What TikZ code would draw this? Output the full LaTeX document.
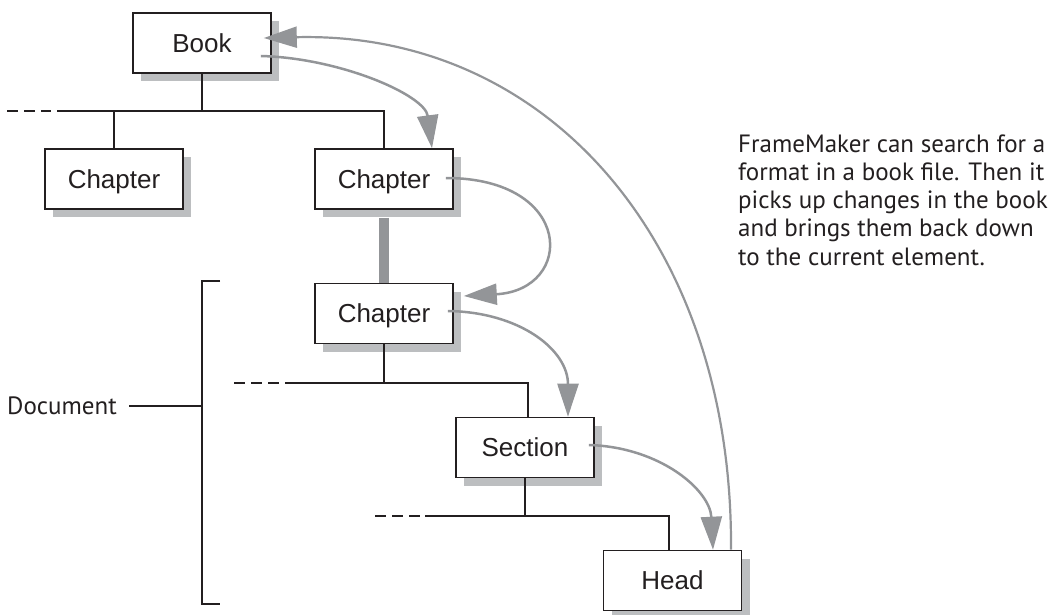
\documentclass[tikz,border=0pt]{standalone}
\usepackage{fontspec}
\setmainfont{Liberation Sans}
\newfontfamily\notefont{PT Sans}
\usetikzlibrary{arrows.meta,shadows,calc}
\definecolor{ink}{HTML}{231F20}
\definecolor{arrowgray}{HTML}{939598}
\definecolor{shadowgray}{HTML}{BCBEC0}
\begin{document}
\begin{tikzpicture}[x=1pt,y=-1pt,
  box/.style={draw=ink, line width=1.6pt, fill=white, minimum width=138pt,
    minimum height=60pt, inner sep=0pt, text height=18.6pt, text depth=0pt,
    font=\fontsize{26}{30}\selectfont, text=ink,
    drop shadow={shadow xshift=8pt, shadow yshift=-8pt, fill=shadowgray, opacity=1}},
  tree/.style={draw=ink, line width=1.3pt},
  dashtree/.style={tree, dash pattern=on 11pt off 6pt},
  flow/.style={draw=arrowgray, line width=2.5pt, -{Triangle[length=33pt,width=21pt]}},
  bigflow/.style={flow, line width=2.2pt},
  bar/.style={draw=arrowgray, line width=10pt},
  label/.style={font=\notefont\fontsize{25}{28.3}\selectfont, text=ink, inner sep=0pt, align=left}
  ]
\useasboundingbox (0,0) rectangle (1057,615);

% boxes
\node[box] (book) at (202,43) {Book};
\node[box] (chapA) at (114,179) {Chapter};
\node[box] (chapB) at (384,179) {Chapter};
\node[box] (chapC) at (384,313.5) {Chapter};
\node[box] (section) at (525,447.5) {Section};
\node[box] (head) at (672.5,580.5) {Head};

% thick bar between chapters
\draw[bar] ($(chapB.south)+(0,8)$) -- (chapC.north);

% tree level 1
\coordinate (j1) at (202,111);
\coordinate (d1s) at (7,111);
\coordinate (d1e) at (51,111);
\coordinate (s1) at (57,111);
\draw[tree] (book.south) -- (j1);
\draw[dashtree] (d1s) -- (d1e);
\draw[tree] (s1) -- (s1 -| chapB.north) -- (chapB.north);
\draw[tree] (j1 -| chapA.north) -- (chapA.north);

% tree level 2
\coordinate (d2s) at (234,383);
\coordinate (d2e) at (279,383);
\coordinate (s2) at (285,383);
\coordinate (r2) at (528,383);
\draw[dashtree] (d2s) -- (d2e);
\draw[tree] (chapC.south) -- (chapC.south |- s2);
\draw[tree] (s2) -- (r2) -- (r2 |- section.north);

% tree level 3
\coordinate (d3s) at (375,516);
\coordinate (d3e) at (420,516);
\coordinate (s3) at (425,516);
\coordinate (r3) at (669,516);
\draw[dashtree] (d3s) -- (d3e);
\draw[tree] (section.south) -- (section.south |- s3);
\draw[tree] (s3) -- (r3) -- (r3 |- head.north);

% document bracket
\coordinate (bt) at (220,281);
\coordinate (bb) at (220,604);
\coordinate (bmid) at (202,406);
\coordinate (docline) at (129,406);
\draw[tree] (bt) -- (bt -| bmid) -- (bb -| bmid) -- (bb);
\node[label, anchor=base west] (doc) at (7,414) {Document};
\draw[tree] (docline) -- (bmid);

% note (anchored at the baseline of its last line)
\node[label, anchor=base west] (note) at (738,265.2) {FrameMaker can search for a\\format in a book file. Then it\\picks up changes in the book\\and brings them back down\\to the current element.};

% flow arrows
\draw[flow] ($(book.east)+(-11,13)$) .. controls (340,58) and (425,95) .. ($(chapB.north)+(48,0)$);
\draw[bigflow] ($(head.north)+(58.5,0)$) .. controls (733,243) and (548,31) .. ($(book.east)+(-8,-5)$);
\draw[flow] ($(chapB.east)+(-8,-1)$) .. controls (575,178) and (575,290) .. ($(chapC.east)+(10,-17.5)$);
\draw[flow] ($(chapC.east)+(-6,-2.5)$) .. controls (520,312) and (568,350) .. ($(section.north)+(43,0)$);
\draw[flow] ($(section.east)+(-6,-2.5)$) .. controls (660,447) and (710,490) .. ($(head.north)+(40.5,0)$);
\end{tikzpicture}
\end{document}
